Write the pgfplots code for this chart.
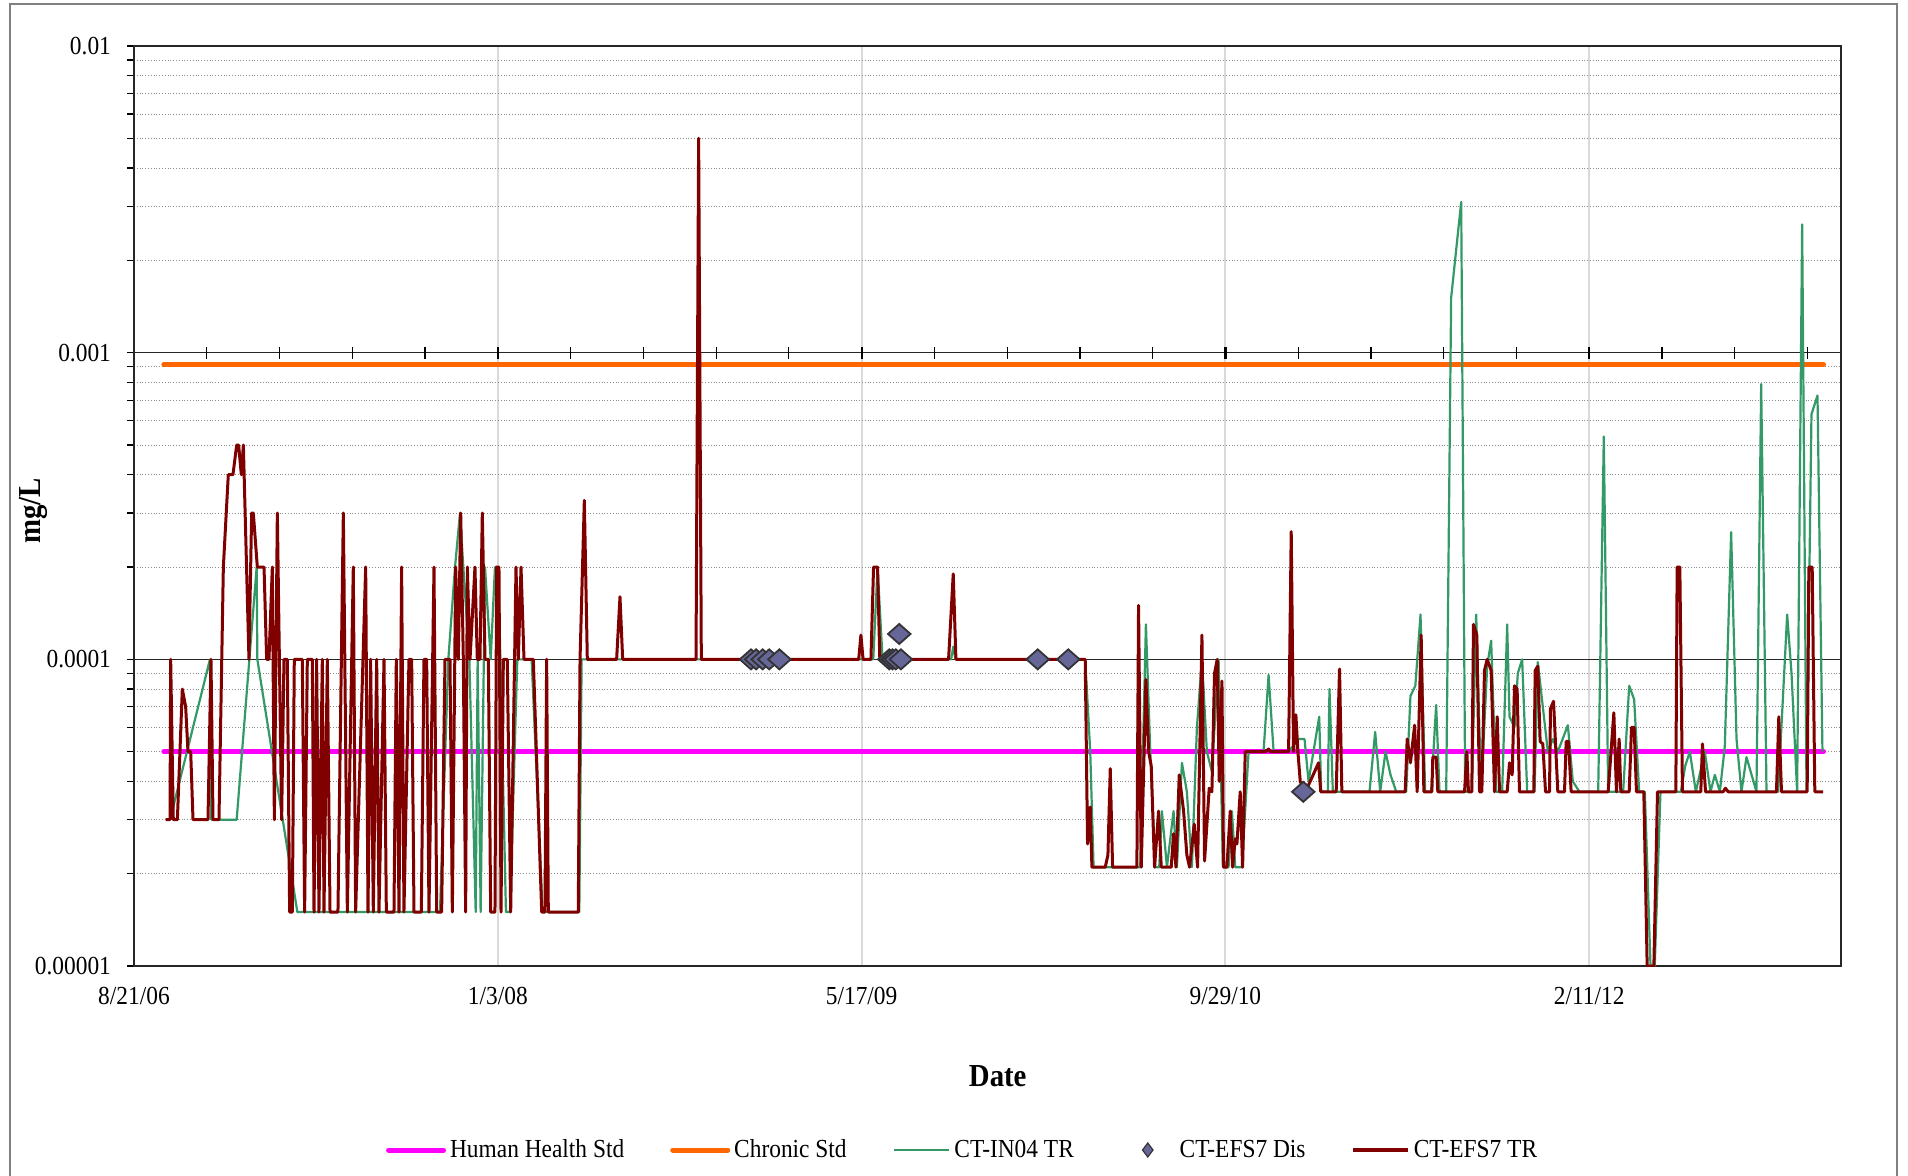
\documentclass[border=0pt]{standalone}
\usepackage{pgfplots}
\pgfplotsset{compat=1.18}
\usepackage{fontspec}
\setmainfont{Liberation Serif}[FakeStretch=0.9]
\definecolor{hh}{RGB}{255,0,255}
\definecolor{chr}{RGB}{255,102,0}
\definecolor{inn}{RGB}{51,153,102}
\definecolor{efs}{RGB}{128,0,0}
\definecolor{dis}{RGB}{102,102,153}
\pgfplotsset{
  linelegend/.style={legend image code/.code={\draw[##1] (0pt,0pt) -- (27.5pt,0pt);}},
  marklegend/.style={legend image code/.code={\path (0pt,0pt) (27.5pt,0pt); \draw[##1] plot coordinates {(13.75pt,0pt)};}},
}
\begin{document}
\begin{tikzpicture}
\path[use as bounding box] (0,0) rectangle (954pt,587.5pt);
\draw[line width=1pt, black!50] (5pt,-10pt) rectangle (948.5pt,585.5pt);
\begin{axis}[
  at={(67pt,104.5pt)}, anchor=south west,
  scale only axis, width=853.5pt, height=460pt,
  ymode=log, ymin=1e-5, ymax=1e-2,
  xmin=0, xmax=2346,
  xtick={0,500,1000,1500,2000},
  xticklabels={8/21/06,1/3/08,5/17/09,9/29/10,2/11/12},
  ytick={1e-5,1e-4,1e-3,1e-2},
  yticklabels={0.00001,0.0001,0.001,0.01},
  minor ytick={2e-5,3e-5,4e-5,5e-5,6e-5,7e-5,8e-5,9e-5,2e-4,3e-4,4e-4,5e-4,6e-4,7e-4,8e-4,9e-4,2e-3,3e-3,4e-3,5e-3,6e-3,7e-3,8e-3,9e-3},
  tick pos=left, tick align=outside,
  major tick length=3.5pt, minor tick length=3.5pt,
  xtick style={draw=none},
  ytick style={black, line width=0.6pt},
  xmajorgrids, ymajorgrids, yminorgrids,
  major x grid style={black!15, line width=1pt},
  major y grid style={black!85, line width=0.5pt},
  minor y grid style={black!45, densely dotted, line width=0.5pt},
  axis line style={black!85, line width=1pt},
  ticklabel style={font=\fontsize{13}{15}\selectfont},
  xticklabel style={yshift=-3.5pt},
  yticklabel style={xshift=-4.5pt},
  xlabel={Date},
  xlabel style={font=\fontsize{16}{18}\selectfont\bfseries, at={(axis description cs:0.506,0)}, anchor=center, yshift=-55pt},
  ylabel={mg/L},
  ylabel style={font=\fontsize{16}{18}\selectfont\bfseries, at={(axis description cs:0,0.495)}, anchor=center, yshift=50.5pt},
  legend style={at={(0.486,-0.2)}, anchor=center, draw=none, fill=none, legend columns=5,
    font=\fontsize{13}{15}\selectfont, /tikz/every even column/.append style={column sep=21pt}},
  legend cell align=left,
]
% standards
\addplot[forget plot, hh, line width=2.5pt, line cap=round] coordinates {(41,5e-5) (2322,5e-5)};
\addplot[forget plot, chr, line width=2.5pt, line cap=round] coordinates {(41,9.15e-4) (2322,9.15e-4)};
% CT-IN04 TR
\addplot[forget plot, inn, line width=1.1pt, line join=round] coordinates {
(49.5,3e-5) (104.4,1e-4) (106.3,3e-5) (141.1,3e-5) (168.6,2e-4) (169.5,1e-4) (224.5,1.5e-5)
(420.5,1.5e-5) (432,1e-4) (441.2,2e-4) (448,3e-4) (452.6,2e-4) (460.9,1e-4) (469.6,1.5e-5)
(472.3,1e-4) (476.4,1.5e-5) (482.4,2e-4) (490.2,1e-4) (496.1,2e-4) (500.7,2e-4) (511.2,1.5e-5)
(516.7,1.5e-5) (526.8,1e-4) (546.5,1e-4) (561.6,1.5e-5) (612,1.5e-5) (615.2,1e-4)
(1016,1e-4) (1021.9,2e-4) (1028.8,1e-4) (1123,1e-4) (1126,1.1e-4) (1129,1e-4)
(1307.3,1e-4) (1314.2,5e-5) (1318.8,2.1e-5) (1382.9,2.1e-5) (1390.7,1.3e-4) (1396.7,5e-5)
(1403.5,2.1e-5) (1409,2.1e-5) (1412.7,3.2e-5) (1419.6,2.1e-5) (1428.7,3.2e-5) (1433.3,2.1e-5)
(1440.2,4.6e-5) (1447,3.7e-5) (1453.9,2.1e-5) (1460.8,6e-5) (1467.7,1e-4) (1474.5,5e-5)
(1481.4,4.3e-5) (1490.6,1e-4) (1496.5,2.1e-5) (1504.3,2.1e-5) (1508.9,3.2e-5) (1513.5,2.1e-5)
(1522.6,2.1e-5) (1531.8,5e-5) (1552.4,5e-5) (1559.3,8.9e-5) (1566.2,5e-5) (1586.8,5e-5)
(1600.5,5.5e-5) (1608.7,5.5e-5) (1614.2,4e-5) (1628.9,6.5e-5) (1631.6,3.7e-5) (1640.7,3.7e-5)
(1643,8e-5) (1647.6,3.7e-5) (1698,3.7e-5) (1705.8,5.8e-5) (1712.7,3.7e-5) (1720,5e-5)
(1726.9,4.2e-5) (1734.7,3.7e-5) (1748.4,3.7e-5) (1754.3,7.6e-5) (1761,8.2e-5) (1768.1,1.4e-4)
(1774.5,3.7e-5) (1782.7,3.7e-5) (1789.6,7.1e-5) (1794.2,3.7e-5) (1803.4,3.7e-5) (1810.2,1.51e-3)
(1824,3.1e-3) (1829.5,3.7e-5) (1838.6,3.7e-5) (1844.6,1.4e-4) (1851.5,3.7e-5) (1859.7,9.5e-5)
(1865.2,1.15e-4) (1872.1,3.7e-5) (1880.3,3.7e-5) (1887.2,1.3e-4) (1890.4,6.5e-5) (1897.3,6e-5)
(1901.8,9e-5) (1907.8,1e-4) (1914.7,3.7e-5) (1924.8,3.7e-5) (1929.3,9.8e-5) (1943.1,5e-5)
(1950,5.5e-5) (1956.8,5e-5) (1970.6,6.1e-5) (1977.4,4e-5) (1986.6,3.7e-5) (2012.3,3.7e-5)
(2020,5.33e-4) (2026,3.7e-5) (2046.6,3.7e-5) (2054.9,8.2e-5) (2061.7,7.4e-5) (2068.6,3.7e-5)
(2076.4,3.7e-5) (2084.2,1e-5) (2090,1e-5) (2097.9,3.7e-5) (2126,3.7e-5) (2132,4.5e-5)
(2138.2,5e-5) (2146.5,3.7e-5) (2158.8,5e-5) (2166.6,3.7e-5) (2172.6,4.2e-5) (2179.5,3.7e-5)
(2186.3,5.2e-5) (2195,2.6e-4) (2202.4,5.5e-5) (2209.2,3.7e-5) (2216.1,4.8e-5) (2229.8,3.7e-5)
(2236.3,7.9e-4) (2243.6,3.7e-5) (2259.6,3.7e-5) (2272,1.4e-4) (2278,9e-5) (2285.7,3.7e-5)
(2292.6,2.62e-3) (2298.6,3.7e-5) (2305.4,6.3e-4) (2313.7,7.25e-4) (2320.5,5e-5)
};
% CT-EFS7 TR
\addplot[forget plot, efs, line width=1.5pt, line join=round] coordinates {
(43.5,3e-5) (49.5,3e-5) (50.4,1e-4) (54,3e-5) (59.6,3e-5) (66.4,8e-5) (71,7e-5) (74.2,5e-5)
(77.9,5e-5) (81.1,3e-5) (101.7,3e-5) (105.8,1e-4) (108.6,3e-5) (116.8,3e-5) (122.8,2e-4)
(129.6,4e-4) (136,4e-4) (141.1,5e-4) (143.8,5e-4) (147.5,4e-4) (150.3,5e-4) (158,1e-4)
(161.7,3e-4) (164,3e-4) (169.5,2e-4) (178.7,2e-4) (182.3,1e-4) (185.5,1e-4) (190.1,2e-4)
(192.9,3e-5) (197,3e-4) (202.9,3e-5) (206.1,1e-4) (210.7,1e-4) (213.9,1.5e-5) (217.6,1.5e-5)
(220.3,1e-4) (231.3,1e-4) (234.5,1.5e-5) (238.2,1e-4) (245.1,1e-4) (247.4,1.5e-5) (251,1e-4)
(254.2,1.5e-5) (258.8,1e-4) (261.1,1.5e-5) (265.7,1e-4) (269.4,1.5e-5) (280.3,1.5e-5)
(287.7,3e-4) (293.2,1.5e-5) (301.4,2e-4) (304.6,1.5e-5) (318.4,2e-4) (321.6,1.5e-5)
(325.2,1e-4) (328.9,1.5e-5) (333.5,1e-4) (336.7,1.5e-5) (343.6,1e-4) (346.8,1.5e-5)
(357.3,1.5e-5) (360.5,1e-4) (364.2,1.5e-5) (367.8,2e-4) (371,1.5e-5) (377.9,1e-4)
(381.6,1e-4) (384.8,1.5e-5) (394.9,1.5e-5) (398.5,1e-4) (402.2,1e-4) (405.4,1.5e-5)
(412.3,2e-4) (416,1.5e-5) (422.8,1.5e-5) (427.4,1e-4) (434.3,1e-4) (437.5,1.5e-5)
(442.1,2e-4) (445.7,1e-4) (449,3e-4) (452.6,1e-4) (455.8,1.5e-5) (458.1,2e-4) (461.8,1e-4)
(468.6,2e-4) (471.8,1e-4) (475.5,1e-4) (478.7,3e-4) (482.4,1e-4) (487,1e-4) (490.2,1.5e-5)
(496.1,1.5e-5) (498.4,2e-4) (501.6,2e-4) (504.4,1.5e-5) (507.6,1e-4) (513,1e-4)
(517.7,1.5e-5) (525,2e-4) (528.2,1e-4) (531.9,2e-4) (536,1e-4) (548.8,1e-4) (560.3,1.5e-5)
(564.8,1.5e-5) (567.1,1e-4) (569.4,1.5e-5) (610.6,1.5e-5) (613,1e-4) (618.9,3.3e-4)
(623,1e-4) (663.3,1e-4) (667.9,1.6e-4) (671.6,1e-4) (772.4,1e-4) (776,5e-3) (779.7,1e-4)
(996,1e-4) (999,1.2e-4) (1002,1e-4) (1012.8,1e-4) (1016.4,2e-4) (1021.9,2e-4) (1025,1e-4)
(1119.5,1e-4) (1125.9,1.9e-4) (1129.6,1e-4) (1307.3,1e-4) (1310.5,2.5e-5) (1314.2,3.3e-5)
(1316.5,2.1e-5) (1334.8,2.1e-5) (1338.5,2.3e-5) (1341.7,4.4e-5) (1344.9,2.1e-5)
(1378.3,2.1e-5) (1380.6,1.5e-4) (1384.3,2.1e-5) (1390.7,8.6e-5) (1394.4,5e-5) (1398,4.5e-5)
(1402.6,2.1e-5) (1408.1,3.2e-5) (1411.8,2.1e-5) (1425.5,2.1e-5) (1428.7,2.7e-5) (1432,2.1e-5)
(1436.5,4.2e-5) (1442.5,3.2e-5) (1447,2.3e-5) (1450.7,2.1e-5) (1457.1,2.9e-5) (1461.7,2.1e-5)
(1467.7,1.2e-4) (1471.3,2.2e-5) (1477.7,3.8e-5) (1481.4,3.7e-5) (1485,9e-5) (1488.7,1e-4)
(1491.5,4e-5) (1495.2,8.5e-5) (1497.4,2.1e-5) (1502,2.1e-5) (1506.6,3.2e-5) (1509.8,2.1e-5)
(1513.5,2.6e-5) (1515.8,2.5e-5) (1520.3,3.7e-5) (1523.6,2.1e-5) (1527.2,5e-5) (1554.7,5e-5)
(1559.3,5.1e-5) (1562,5e-5) (1586.8,5e-5) (1590.4,2.61e-4) (1593.6,5e-5) (1596.8,6.6e-5)
(1599.6,5e-5) (1602.8,4e-5) (1609.7,3.7e-5) (1616.5,4e-5) (1628,4.6e-5) (1631,3.7e-5)
(1652.2,3.7e-5) (1656.8,9.3e-5) (1660,3.7e-5) (1747,3.7e-5) (1749.8,5.5e-5) (1754.3,4.6e-5)
(1760,6.1e-5) (1763.5,3.7e-5) (1769,1.2e-4) (1772.7,3.7e-5) (1783.7,3.7e-5) (1785,4.8e-5)
(1789.6,4.8e-5) (1791.9,3.7e-5) (1828.6,3.7e-5) (1831.8,5e-5) (1834,3.7e-5) (1838.6,3.7e-5)
(1840.9,1.3e-4) (1845.5,1.2e-4) (1849.2,3.7e-5) (1852.4,3.7e-5) (1856,9.2e-5) (1859.7,1e-4)
(1865.2,9.2e-5) (1869.8,3.7e-5) (1873.5,6.5e-5) (1876.7,3.7e-5) (1887.2,3.7e-5) (1890.4,4.6e-5)
(1894.1,4.2e-5) (1897.3,8.2e-5) (1900.9,8e-5) (1904.1,3.7e-5) (1923.8,3.7e-5) (1925.7,9.2e-5)
(1929.3,9.5e-5) (1932.5,5.4e-5) (1936.2,5.3e-5) (1939.9,3.7e-5) (1945.4,3.7e-5) (1946.7,6.9e-5)
(1950.9,7.3e-5) (1956.8,3.7e-5) (1966,3.7e-5) (1968.3,5.4e-5) (1971.5,5.4e-5) (1975.1,3.7e-5)
(2026,3.7e-5) (2033.8,6.7e-5) (2037.4,3.7e-5) (2041.1,5.5e-5) (2043.4,3.7e-5) (2054.9,3.7e-5)
(2058.1,6e-5) (2061.7,6e-5) (2064.9,3.7e-5) (2075,3.7e-5) (2079.6,1e-5) (2088.8,1e-5)
(2093.8,3.7e-5) (2119,3.7e-5) (2120.8,2e-4) (2124.5,2e-4) (2128.1,3.7e-5) (2153.3,3.7e-5)
(2155.6,5.3e-5) (2159.8,3.7e-5) (2184,3.7e-5) (2187.2,3.8e-5) (2190.9,3.7e-5) (2257.3,3.7e-5)
(2260.5,6.5e-5) (2264.2,3.7e-5) (2299.5,3.7e-5) (2301.8,2e-4) (2306.4,2e-4) (2310,3.7e-5)
(2321.5,3.7e-5)
};
% CT-EFS7 Dis
\addplot[forget plot, only marks, mark=diamond*, mark size=5pt,
  mark options={xscale=1.5, fill=dis, draw=black!80, line width=0.9pt}] coordinates {
(848,1e-4) (855,1e-4) (864,1e-4) (873,1e-4) (887,1e-4)
(1038,1e-4) (1042.5,1e-4) (1047,1e-4) (1054,1e-4) (1051.7,1.21e-4)
(1242,1e-4) (1284,1e-4) (1607,3.7e-5)
};
% x axis crossing at 0.001
\pgfplotsinvokeforeach{100,200,300,400,600,700,800,900,1100,1200,1300,1400,1600,1700,1800,1900,2100,2200,2300}{
  \draw[black, line width=0.6pt] (axis cs:#1,1e-3) ++(0pt,-3pt) -- ++(0pt,6pt);
}
\pgfplotsinvokeforeach{500,1000,1500,2000}{
  \draw[black, line width=1.1pt] (axis cs:#1,1e-3) ++(0pt,-3pt) -- ++(0pt,6pt);
}
% legend
\addlegendimage{hh, line width=2.5pt, line cap=round, linelegend}
\addlegendentry{Human Health Std}
\addlegendimage{chr, line width=2.5pt, line cap=round, linelegend}
\addlegendentry{Chronic Std}
\addlegendimage{inn, line width=1.4pt, linelegend}
\addlegendentry{CT-IN04 TR}
\addlegendimage{only marks, mark=diamond*, mark size=3.5pt, mark options={fill=dis, draw=black!80, line width=0.6pt}, marklegend}
\addlegendentry{CT-EFS7 Dis}
\addlegendimage{efs, line width=1.6pt, linelegend}
\addlegendentry{CT-EFS7 TR}
\end{axis}
\end{tikzpicture}
\end{document}
